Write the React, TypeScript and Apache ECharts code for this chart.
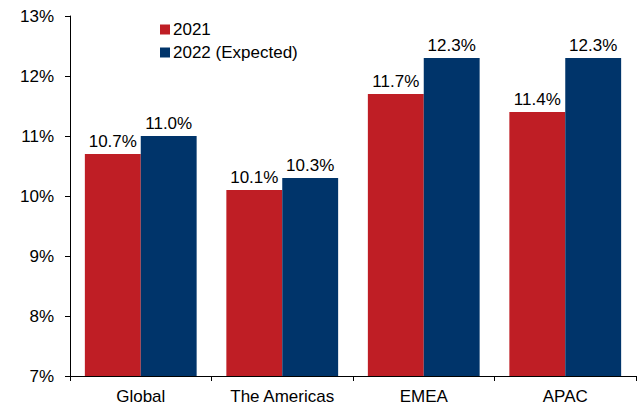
import React, { useEffect, useRef } from "react";
import * as echarts from "echarts";

const categories = ["Global", "The Americas", "EMEA", "APAC"];
const series2021 = [10.7, 10.1, 11.7, 11.4];
const series2022 = [11.0, 10.3, 12.3, 12.3];
const seriesNames = ["2021", "2022 (Expected)"];

const FONT = "Liberation Sans, Arial, sans-serif";
const FS = 17;

export default function App() {
  const ref = useRef<HTMLDivElement>(null);
  useEffect(() => {
    const chart = echarts.init(ref.current!, null, { renderer: "svg" });
    const label = {
      show: true,
      position: "top",
      distance: 4,
      color: "#000",
      fontFamily: FONT,
      fontSize: FS,
      formatter: (p: any) => p.value.toFixed(1) + "%",
    };
    chart.setOption({
      animation: false,
      backgroundColor: "#fff",
      textStyle: { fontFamily: FONT },
      legend: {
        orient: "vertical",
        left: 155,
        top: 16,
        itemWidth: 10,
        itemHeight: 10,
        itemGap: 6,
        icon: "rect",
        textStyle: { fontFamily: FONT, fontSize: FS, color: "#000", padding: [0, 0, 0, -2] },
        data: seriesNames,
      },
      grid: { left: 70, right: 5, top: 16, bottom: 27, containLabel: false },
      xAxis: {
        type: "category",
        data: categories,
        axisLine: { lineStyle: { color: "#000", width: 1 } },
        axisTick: { show: true, length: 5, lineStyle: { color: "#000" }, alignWithLabel: false },
        axisLabel: { color: "#000", fontFamily: FONT, fontSize: FS, margin: 12 },
      },
      yAxis: {
        type: "value",
        min: 7,
        max: 13,
        interval: 1,
        axisLine: { show: true, lineStyle: { color: "#000", width: 1 } },
        axisTick: { show: true, length: 5, lineStyle: { color: "#000" } },
        splitLine: { show: false },
        axisLabel: {
          color: "#000",
          fontFamily: FONT,
          fontSize: FS,
          margin: 16,
          formatter: (v: number) => v + "%",
        },
      },
      series: [
        {
          name: seriesNames[0],
          type: "bar",
          data: series2021,
          itemStyle: { color: "#BF1E25" },
          barGap: "0%",
          barCategoryGap: "21%",
          label,
        },
        {
          name: seriesNames[1],
          type: "bar",
          data: series2022,
          itemStyle: { color: "#00346A" },
          label,
        },
      ],
    });
    return () => chart.dispose();
  }, []);
  return <div ref={ref} style={{ width: 641, height: 405, position: "fixed", left: 0, top: 0 }} />;
}
